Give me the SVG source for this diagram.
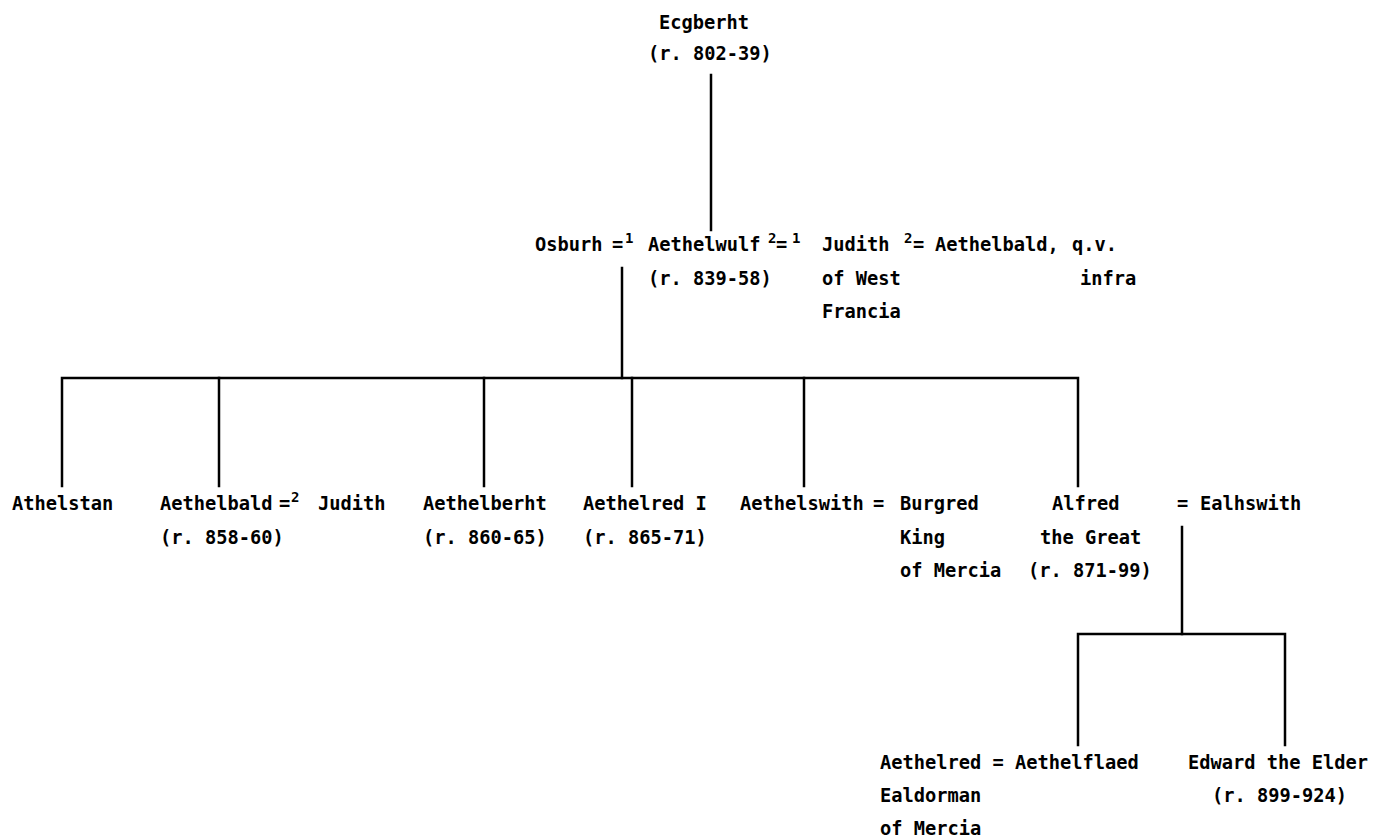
<svg xmlns="http://www.w3.org/2000/svg" width="1373" height="837" viewBox="0 0 1373 837">
<style>
  text { font-family: "DejaVu Sans Mono", "Liberation Mono", monospace; font-weight: bold; font-size: 18.7px; fill: #000; }
  .s { font-size: 14px; }
  .c { stroke: #000; stroke-width: 2.5; fill: none; stroke-linecap: square; }
</style>
<rect width="1373" height="837" fill="#fff"/>
<g id="connectors">
  <path class="c" d="M711 75 V230"/>
  <path class="c" d="M622 268 V378"/>
  <path class="c" d="M62 486 V378 H1078 V486"/>
  <path class="c" d="M219 378 V486"/>
  <path class="c" d="M484 378 V486"/>
  <path class="c" d="M632 378 V486"/>
  <path class="c" d="M804 378 V486"/>
  <path class="c" d="M1182 527 V634"/>
  <path class="c" d="M1078 745 V634 H1285 V745"/>
</g>
<g id="ecgberht">
  <text x="659" y="29">Ecgberht</text>
  <text x="648" y="60">(r. 802-39)</text>
</g>
<g id="osburh">
  <text x="535" y="251">Osburh</text>
  <text x="612" y="251">=</text>
  <text class="s" x="625" y="243">1</text>
</g>
<g id="aethelwulf">
  <text x="648" y="251">Aethelwulf</text>
  <text x="648" y="285">(r. 839-58)</text>
  <text class="s" x="768" y="243">2</text>
  <text x="776" y="251">=</text>
  <text class="s" x="792" y="243">1</text>
</g>
<g id="judith-west-francia">
  <text x="822" y="251">Judith</text>
  <text x="822" y="285">of West</text>
  <text x="822" y="318">Francia</text>
  <text class="s" x="904" y="243">2</text>
  <text x="913" y="251">=</text>
</g>
<g id="aethelbald-ref">
  <text x="935" y="251">Aethelbald,</text>
  <text x="1072" y="251">q.v.</text>
  <text x="1080" y="285">infra</text>
</g>
<g id="athelstan">
  <text x="12" y="510">Athelstan</text>
</g>
<g id="aethelbald">
  <text x="160" y="510">Aethelbald</text>
  <text x="279" y="510">=</text>
  <text class="s" x="291" y="502">2</text>
  <text x="318" y="510">Judith</text>
  <text x="160" y="544">(r. 858-60)</text>
</g>
<g id="aethelberht">
  <text x="423" y="510">Aethelberht</text>
  <text x="423" y="544">(r. 860-65)</text>
</g>
<g id="aethelred-i">
  <text x="583" y="510">Aethelred I</text>
  <text x="583" y="544">(r. 865-71)</text>
</g>
<g id="aethelswith">
  <text x="740" y="510">Aethelswith</text>
  <text x="873" y="510">=</text>
  <text x="900" y="510">Burgred</text>
  <text x="900" y="544">King</text>
  <text x="900" y="577">of Mercia</text>
</g>
<g id="alfred">
  <text x="1052" y="510">Alfred</text>
  <text x="1040" y="544">the Great</text>
  <text x="1028" y="577">(r. 871-99)</text>
</g>
<g id="ealhswith">
  <text x="1177" y="510">=</text>
  <text x="1200" y="510">Ealhswith</text>
</g>
<g id="aethelflaed">
  <text x="880" y="769">Aethelred = Aethelflaed</text>
  <text x="880" y="802">Ealdorman</text>
  <text x="880" y="835">of Mercia</text>
</g>
<g id="edward">
  <text x="1188" y="769">Edward the Elder</text>
  <text x="1212" y="802">(r. 899-924)</text>
</g>
</svg>
